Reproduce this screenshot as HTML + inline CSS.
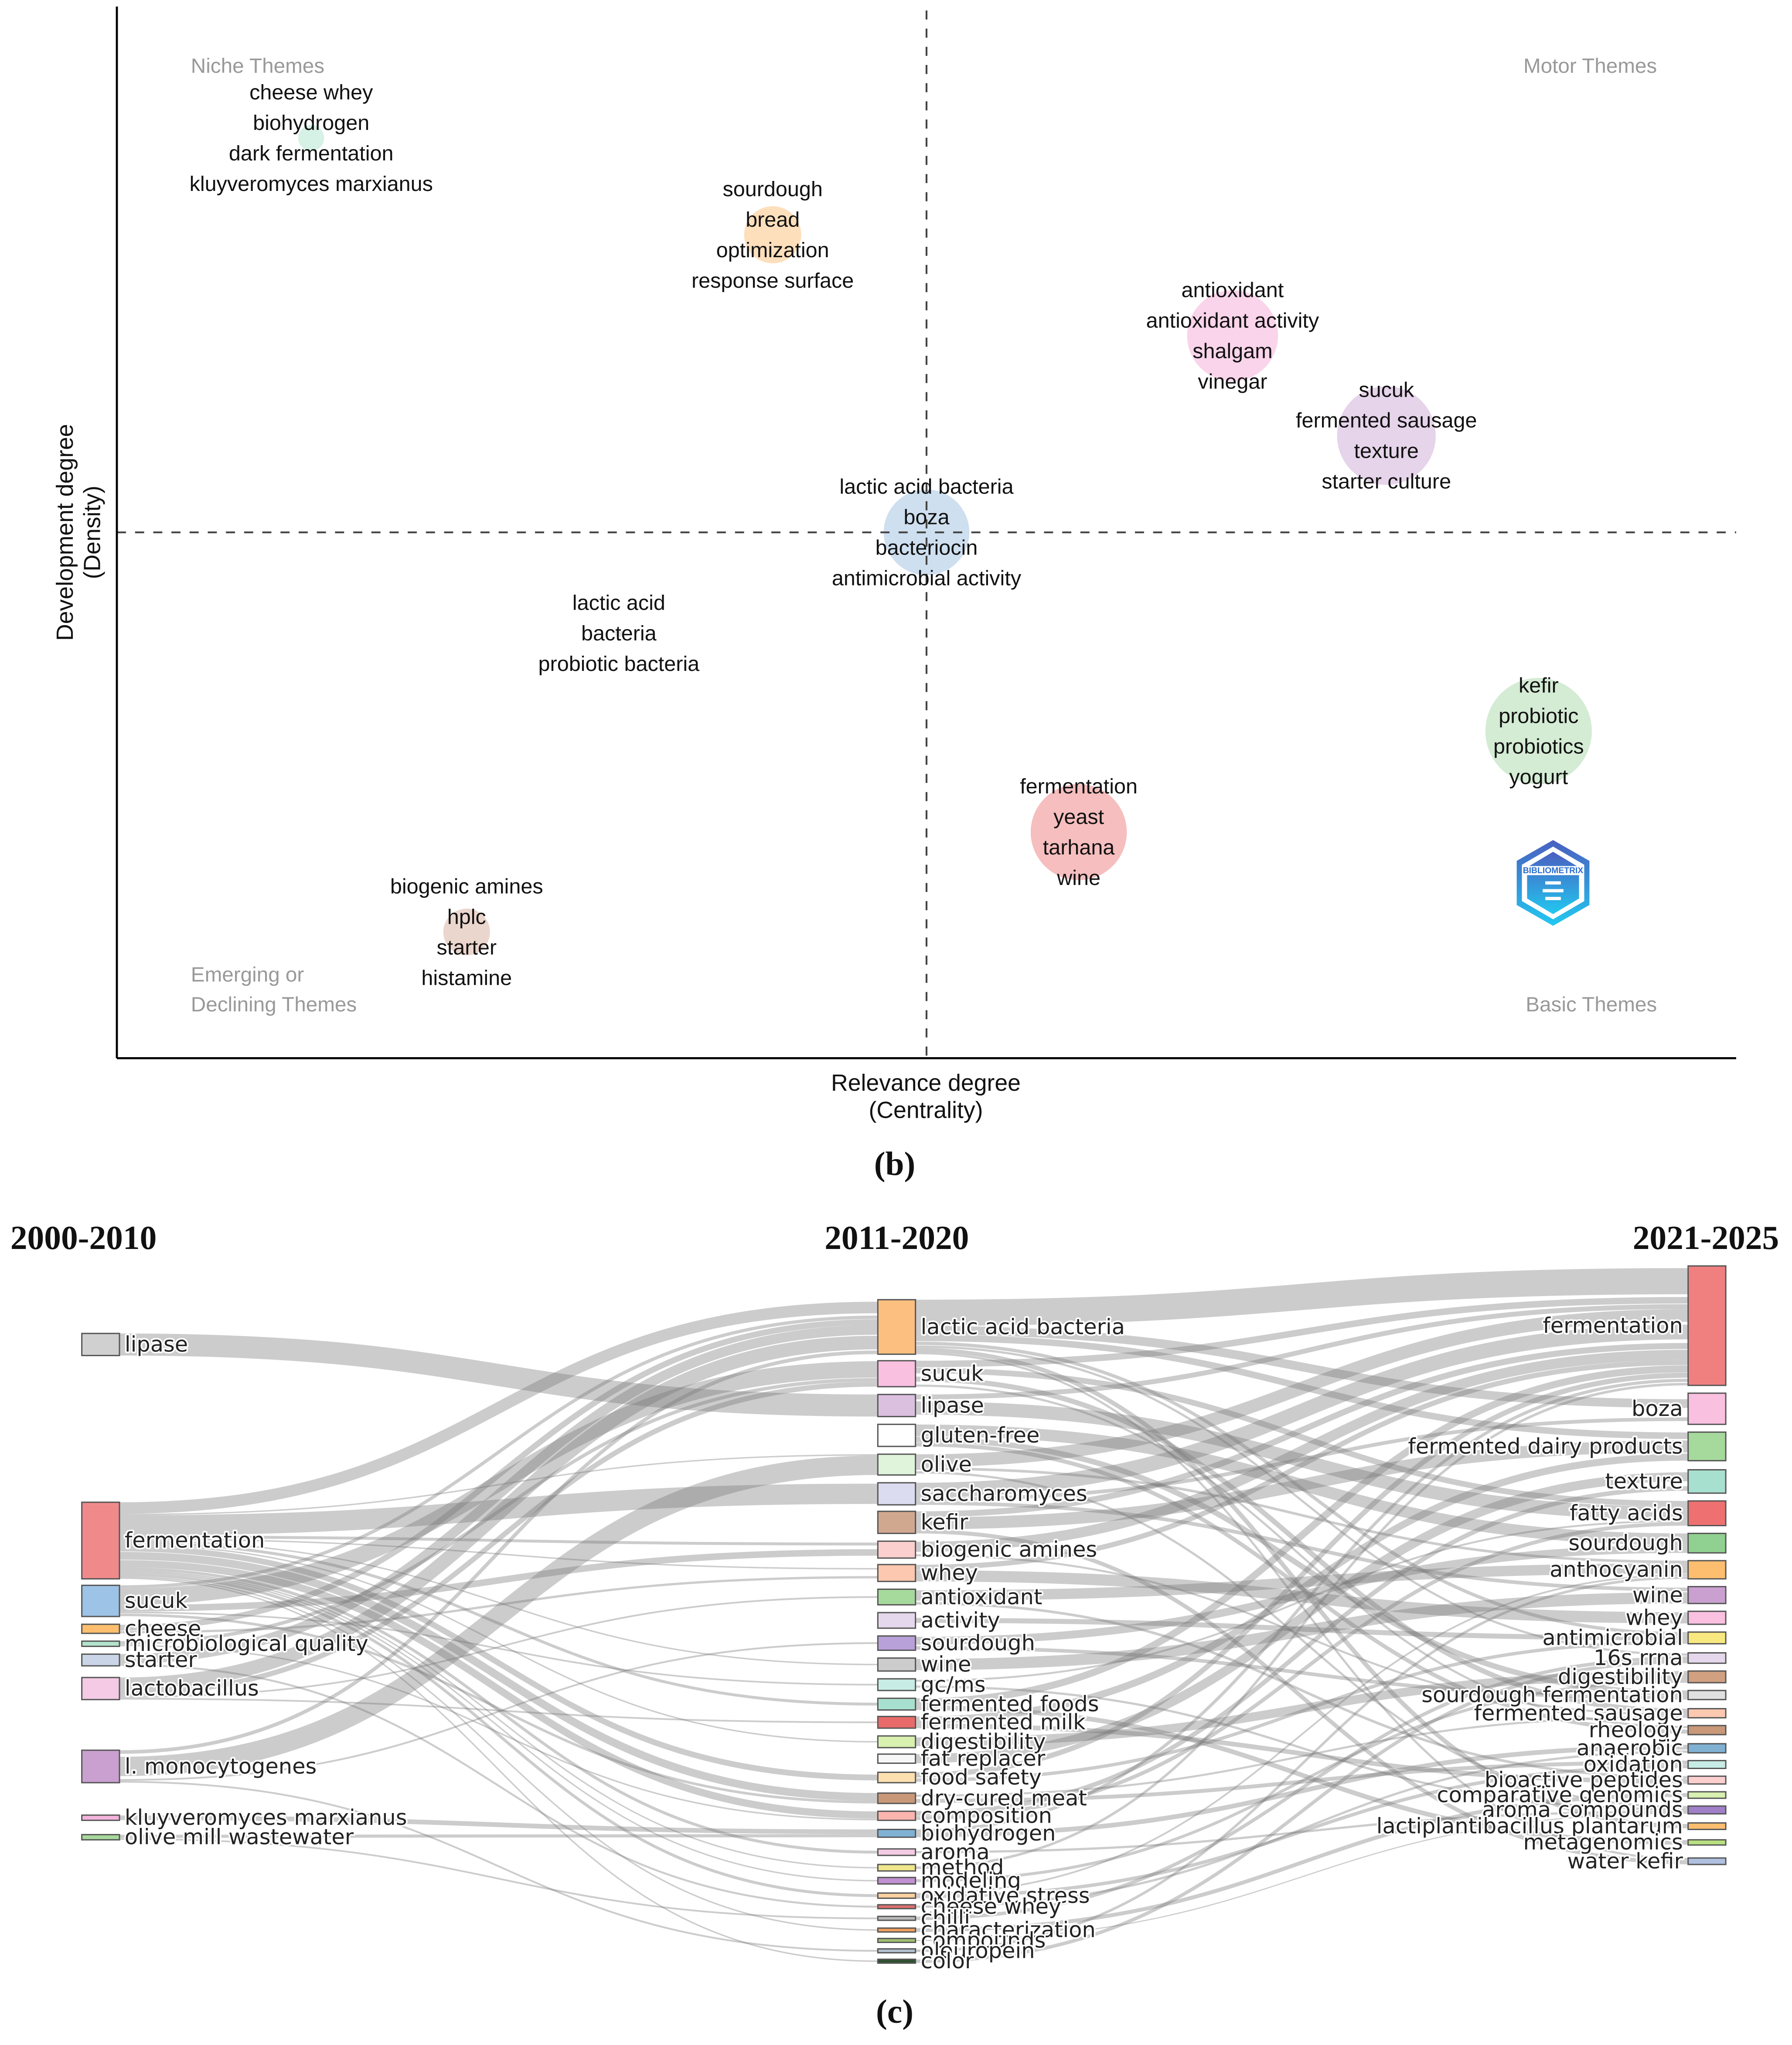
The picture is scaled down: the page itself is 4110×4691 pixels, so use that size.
<!DOCTYPE html>
<html><head><meta charset="utf-8"><title>Thematic map and evolution</title>
<style>
html,body{margin:0;padding:0;background:#fff;}
svg{display:block;}
.lbl{font-family:"Liberation Sans",Arial,sans-serif;font-size:16.3px;fill:#111;text-anchor:middle;}
.quad{font-family:"Liberation Sans",Arial,sans-serif;font-size:16px;fill:#999;}
.axt{font-family:"Liberation Sans",Arial,sans-serif;font-size:18px;fill:#111;text-anchor:middle;}
.cap{font-family:"Liberation Serif",serif;font-size:26px;font-weight:bold;fill:#111;text-anchor:middle;}
.per{font-family:"Liberation Serif",serif;font-size:26px;font-weight:bold;fill:#111;}
.sk{font-family:"DejaVu Sans","Liberation Sans",sans-serif;font-size:16.6px;fill:#222;paint-order:stroke;stroke:#fff;stroke-width:2.5px;stroke-linejoin:round;}
</style></head>
<body>
<svg id="fig" width="4110" height="4691" viewBox="0 0 1380 1575" xmlns="http://www.w3.org/2000/svg">
<g id="mapg"></g>
<g id="sankg"></g>
</svg>
<script>
// ---------- Thematic map data ----------
const themeLabels = [
 ["cheese whey","biohydrogen","dark fermentation","kluyveromyces marxianus"],
 ["sourdough","bread","optimization","response surface"],
 ["antioxidant","antioxidant activity","shalgam","vinegar"],
 ["sucuk","fermented sausage","texture","starter culture"],
 ["lactic acid bacteria","boza","bacteriocin","antimicrobial activity"],
 ["lactic acid","bacteria","probiotic bacteria"],
 ["kefir","probiotic","probiotics","yogurt"],
 ["fermentation","yeast","tarhana","wine"],
 ["biogenic amines","hplc","starter","histamine"]
];
const centrality = [0.12, 0.405, 0.689, 0.784, 0.5, 0.31, 0.878, 0.594, 0.216];
const density    = [0.875, 0.783, 0.687, 0.592, 0.5, 0.404, 0.311, 0.215, 0.12];
const bubbleSize = [10, 22, 35, 38, 33, 3, 41, 37, 18];
const bubbleColors = ["#cfeee0","#fdd9b0","#f9cde6","#e0cce6","#c6d9ec","#ddd","#cde8cc","#f5b3b3","#e8cfc6"];

// ---------- Sankey data ----------
const leftNames = ["lipase","fermentation","sucuk","cheese","microbiological quality","starter","lactobacillus","l. monocytogenes","kluyveromyces marxianus","olive mill wastewater"];
const leftTop = [1027,1157,1221,1251,1264,1274,1292,1348,1398,1413];
const leftBot = [1044,1216,1245,1258,1268,1283,1309,1373,1402,1417];
const leftCol = ["#d0d0d0","#f08a8a","#9dc3e6","#fdbf6f","#b3e2cd","#cbd5e8","#f4cae4","#c9a0d0","#f4b4dc","#a6d99c"];

const midNames = ["lactic acid bacteria","sucuk","lipase","gluten-free","olive","saccharomyces","kefir","biogenic amines","whey","antioxidant","activity","sourdough","wine","gc/ms","fermented foods","fermented milk","digestibility","fat replacer","food safety","dry-cured meat","composition","biohydrogen","aroma","method","modeling","oxidative stress","cheese whey","chilli","characterization","compounds","oleuropein","color"];
const midTop = [1001,1048,1074,1097,1120,1142,1164,1187,1205,1224,1242,1260,1277,1293,1308,1322,1337,1351,1365,1381,1395,1409,1424,1436,1446,1458,1467,1476,1485,1493,1501,1509];
const midBot = [1043,1068,1091,1114,1136,1159,1181,1200,1218,1236,1254,1271,1287,1302,1317,1331,1346,1358,1373,1389,1402,1415,1429,1441,1451,1462,1470,1479,1488,1496,1504,1512];
const midCol = ["#fdbf80","#f9c0e0","#dcc0e0","#ffffff","#e0f3db","#dcdcf0","#d0a890","#fccfcf","#fcc8b0","#a6d99c","#e5d8ec","#b8a0d8","#cccccc","#c7ece5","#a8e0d0","#e86a6a","#d8f0b0","#f7f7f7","#fde0b0","#c89878","#fbb4ae","#80b1d3","#f4cae4","#f0e68c","#c090d0","#fdd0a0","#e07070","#bbbbbb","#f0a060","#a0c070","#b0c0d0","#305030"];

const rightNames = ["fermentation","boza","fermented dairy products","texture","fatty acids","sourdough","anthocyanin","wine","whey","antimicrobial","16s rrna","digestibility","sourdough fermentation","fermented sausage","rheology","anaerobic","oxidation","bioactive peptides","comparative genomics","aroma compounds","lactiplantibacillus plantarum","metagenomics","water kefir"];
const rightTop = [975,1073,1103,1132,1156,1181,1202,1222,1241,1257,1273,1287,1302,1316,1329,1343,1356,1368,1380,1391,1404,1417,1431];
const rightBot = [1067,1097,1125,1150,1175,1196,1216,1235,1251,1266,1281,1296,1309,1323,1336,1350,1362,1374,1385,1397,1409,1421,1436];
const rightCol = ["#f08080","#f9c0e0","#a6d99c","#a8e0d0","#ee7070","#90d090","#fdbf6f","#c9a0d0","#f9c0e0","#f8e880","#e5d8ec","#d0a080","#e0e0e0","#fcc8b0","#c89878","#80b1d3","#c7ece5","#fccfcf","#d8f0b0","#a080c8","#fdbf6f","#b8e080","#b0c0e0"];

// links stage 1: [leftIndex, midIndex, value]
const links1 = [
 [0,2,14],[1,0,8],[1,5,14],[1,4,1],[1,7,2],[1,8,1],[1,12,1],[1,14,2],[1,18,4],[1,19,6],[1,20,5],[1,22,2],[1,23,1],[1,24,1],[1,25,2],[1,28,1],[1,31,1],[1,16,1],
 [2,1,10],[2,7,4],[2,0,2],[2,19,2],[2,13,1],[3,0,3],[3,8,1],[4,1,2],[4,20,1],[5,0,5],[5,26,1],[6,0,8],[6,1,3],[6,9,1],[6,15,1],
 [7,4,14],[7,0,2],[7,11,1],[7,30,1],[8,21,3],[9,21,2],[9,27,1]
];
// links stage 2: [midIndex, rightIndex, value]
const links2 = [
 [0,0,12],[0,1,4],[0,2,3],[0,9,2],[0,10,1],[0,20,2],[0,22,1],[1,0,3],[1,13,5],[1,4,3],[1,14,1],[2,4,7],[2,0,2],[3,5,6],[3,12,3],[3,14,2],[4,0,5],[4,6,1],[4,19,2],
 [5,0,8],[5,1,2],[5,7,2],[6,2,6],[6,22,2],[6,0,3],[7,0,4],[7,13,2],[8,8,4],[8,0,2],[9,6,4],[9,17,1],[10,9,3],[11,5,4],[11,12,2],[12,7,4],[13,19,2],[13,4,1],
 [14,0,3],[14,21,2],[15,2,3],[15,17,2],[16,11,3],[17,3,3],[18,9,2],[18,0,2],[19,13,2],[19,16,2],[20,4,2],[20,3,2],[21,15,3],[21,0,2],[22,19,2],[23,0,1],[24,11,1],[25,16,2],[25,6,1],
 [26,15,1],[27,10,1],[28,18,2],[29,19,1],[30,6,1],[31,10,1]
];

// ---------- build ----------
const NS="http://www.w3.org/2000/svg";
function mk(tag,attrs,parent){const e=document.createElementNS(NS,tag);for(const k in attrs)e.setAttribute(k,attrs[k]);parent.appendChild(e);return e;}
const mg=document.getElementById('mapg');
const X0=90,X1=1337,Y0=815,Y1=5;
const xs=v=>X0+v*(X1-X0), ys=v=>Y0-v*(Y0-Y1);

bubbleSize.forEach((r,i)=>{
 const c=mk('circle',{cx:xs(centrality[i]),cy:ys(density[i]),r:r,fill:bubbleColors[i],'fill-opacity':0.85},mg);
 
 
});
let l=mk('line',{x1:xs(0.5),y1:8,x2:xs(0.5),y2:Y0,stroke:'#444','stroke-width':1.4,'stroke-dasharray':'7,7'},mg);

l=mk('line',{x1:X0,y1:ys(0.5),x2:X1,y2:ys(0.5),stroke:'#444','stroke-width':1.4,'stroke-dasharray':'7,7'},mg);

l=mk('line',{x1:X0,y1:Y1,x2:X0,y2:Y0,stroke:'#000','stroke-width':1.6},mg);

l=mk('line',{x1:X0,y1:Y0,x2:X1,y2:Y0,stroke:'#000','stroke-width':1.6},mg);

themeLabels.forEach((arr,i)=>{
 const n=arr.length, cx=xs(centrality[i]), cy=ys(density[i]);
 arr.forEach((t,j)=>{
  const tx=mk('text',{x:cx,y:cy+(j-(n-1)/2)*23.5+5.5,class:'lbl'},mg);tx.textContent=t;
  
  
 });
});
function txt(p,a,s,name){const t=mk('text',a,p);t.textContent=s;return t;}
txt(mg,{x:147,y:56,class:'quad'},'Niche Themes','niche-themes-label');
txt(mg,{x:1276,y:56,class:'quad','text-anchor':'end'},'Motor Themes','motor-themes-label');
txt(mg,{x:147,y:756,class:'quad'},'Emerging or','emerging-themes-label');
txt(mg,{x:147,y:779,class:'quad'},'Declining Themes','declining-themes-label');
txt(mg,{x:1276,y:779,class:'quad','text-anchor':'end'},'Basic Themes','basic-themes-label');
txt(mg,{x:713,y:840,class:'axt'},'Relevance degree','x-axis-title');
txt(mg,{x:713,y:861,class:'axt'},'(Centrality)','x-axis-subtitle');
txt(mg,{x:0,y:0,class:'axt',transform:'translate(56,410) rotate(-90)'},'Development degree','y-axis-title');
txt(mg,{x:0,y:0,class:'axt',transform:'translate(77,410) rotate(-90)'},'(Density)','y-axis-subtitle');
txt(mg,{x:689,y:905,class:'cap'},'(b)','caption-b');
const lg=mk('g',{transform:'translate(1196,680)'},mg);

const df=mk('defs',{},mg);const gr=mk('linearGradient',{id:'lgg',x1:0,y1:0,x2:0,y2:1},df);
mk('stop',{offset:0,'stop-color':'#4a5fc0'},gr);mk('stop',{offset:1,'stop-color':'#22c8f0'},gr);
mk('polygon',{points:'0,-33 28,-17 28,17 0,33 -28,17 -28,-17',fill:'url(#lgg)'},lg);
mk('polygon',{points:'0,-28 24,-14 24,14 0,28 -24,14 -24,-14',fill:'#fff'},lg);
mk('polygon',{points:'0,-24 20,-12 20,12 0,24 -20,12 -20,-12',fill:'url(#lgg)'},lg);
mk('rect',{x:-22,y:-13,width:44,height:7,fill:'#fff'},lg);
const lt=mk('text',{x:0,y:-7.5,'font-family':'Liberation Sans,sans-serif','font-size':6.5,'font-weight':'bold',fill:'#2a6fd0','text-anchor':'middle'},lg);lt.textContent='BIBLIOMETRIX';
mk('path',{d:'M-6 0 H6 M-8 6 H8 M-6 12 H6',stroke:'#fff','stroke-width':2.5,fill:'none'},lg);

// ---------- Sankey ----------
const sg=document.getElementById('sankg');
const colX=[63,676,1300], NW=29;
txt(sg,{x:8,y:962,class:'per'},'2000-2010','period-2000-2010');
txt(sg,{x:635,y:962,class:'per'},'2011-2020','period-2011-2020');
txt(sg,{x:1370,y:962,class:'per','text-anchor':'end'},'2021-2025','period-2021-2025');
txt(sg,{x:689,y:1558,class:'cap'},'(c)','caption-c');

const cols=[{t:leftTop,b:leftBot},{t:midTop,b:midBot},{t:rightTop,b:rightBot}];
const linkG=mk('g',{},sg);
function drawStage(links,ci){
 const A=cols[ci],B=cols[ci+1];
 const outSum={},inSum={},outOff={},inOff={};
 links.forEach(([s,t,v])=>{outSum[s]=(outSum[s]||0)+v;inSum[t]=(inSum[t]||0)+v;});
 const byS=links.slice().sort((a,b)=>a[0]-b[0]||B.t[a[1]]-B.t[b[1]]);
 const pos=new Map();
 byS.forEach(L=>{const[s,t,v]=L;const h=A.b[s]-A.t[s];const w=v/outSum[s]*h;const o=outOff[s]||0;outOff[s]=o+w;pos.set(L,{y0:A.t[s]+o+w/2,w0:w});});
 const byT=links.slice().sort((a,b)=>a[1]-b[1]||A.t[a[0]]-A.t[b[0]]);
 byT.forEach(L=>{const[s,t,v]=L;const h=B.b[t]-B.t[t];const w=v/inSum[t]*h;const o=inOff[t]||0;inOff[t]=o+w;const p=pos.get(L);p.y1=B.t[t]+o+w/2;p.w1=w;});
 const xa=colX[ci]+NW, xb=colX[ci+1], xm=(xa+xb)/2;
 links.forEach(L=>{const p=pos.get(L);const w=Math.max(0.8,Math.min(p.w0,p.w1));
  const path=mk('path',{d:`M${xa},${p.y0} C${xm},${p.y0} ${xm},${p.y1} ${xb},${p.y1}`,fill:'none',stroke:'rgba(120,120,120,0.38)','stroke-width':w},linkG);
  
  
 });
}
drawStage(links1,0);drawStage(links2,1);

function drawNodes(names,tops,bots,colors,ci){
 names.forEach((n,i)=>{
  const r=mk('rect',{x:colX[ci],y:tops[i],width:NW,height:Math.max(2,bots[i]-tops[i]),fill:colors[i],stroke:'#555','stroke-width':1},sg);
  
  
  const cy=(tops[i]+bots[i])/2+5.5;
  const t=ci<2?mk('text',{x:colX[ci]+NW+4,y:cy,class:'sk'},sg):mk('text',{x:colX[ci]-4,y:cy,class:'sk','text-anchor':'end'},sg);
  t.textContent=n;
  
  
 });
}
drawNodes(leftNames,leftTop,leftBot,leftCol,0);
drawNodes(midNames,midTop,midBot,midCol,1);
drawNodes(rightNames,rightTop,rightBot,rightCol,2);
</script>
</body></html>
